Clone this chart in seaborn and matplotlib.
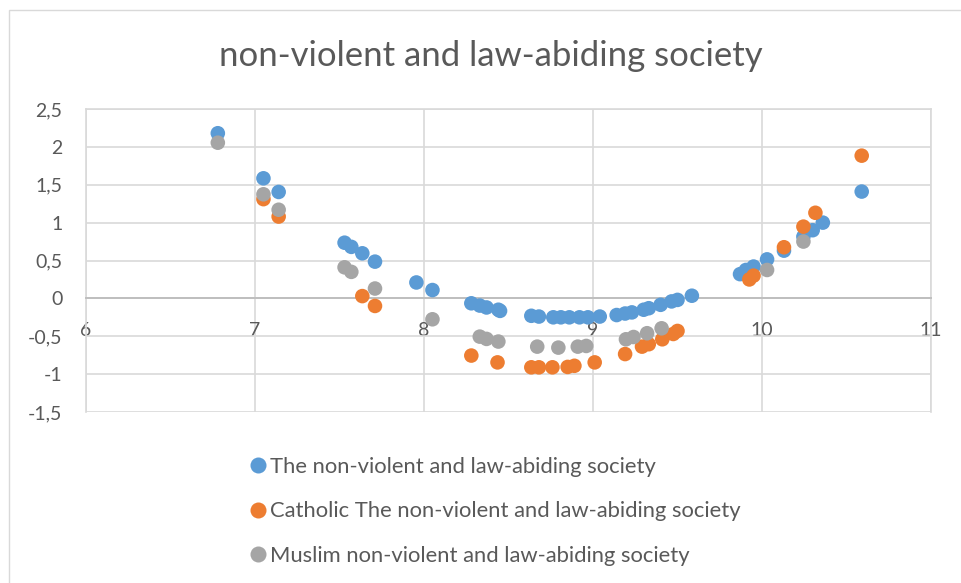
import pandas as pd
import numpy as np
import matplotlib.pyplot as plt
import matplotlib.ticker as mticker
import seaborn as sns

# series
blue_x = [6.78, 7.05, 7.14, 7.53, 7.57, 7.635, 7.71, 7.955, 8.05, 8.28, 8.33, 8.37, 8.44, 8.45,
          8.635, 8.68, 8.765, 8.81, 8.86, 8.92, 8.97, 9.04, 9.14, 9.19, 9.23, 9.30, 9.33, 9.40,
          9.465, 9.50, 9.585, 9.87, 9.905, 9.95, 10.03, 10.13, 10.245, 10.30, 10.36, 10.59]
blue_y = [2.18, 1.585, 1.405, 0.735, 0.68, 0.595, 0.485, 0.21, 0.11, -0.065, -0.095, -0.12, -0.15, -0.165,
          -0.23, -0.24, -0.25, -0.25, -0.25, -0.25, -0.25, -0.24, -0.22, -0.20, -0.185, -0.15, -0.13, -0.085,
          -0.04, -0.02, 0.035, 0.32, 0.375, 0.42, 0.515, 0.63, 0.815, 0.90, 1.0, 1.41]

catholic_x = [7.05, 7.14, 7.635, 7.71, 8.28, 8.435, 8.635, 8.68, 8.76, 8.85, 8.89, 9.01,
              9.19, 9.29, 9.33, 9.41, 9.475, 9.50, 9.925, 9.95, 10.13, 10.245, 10.316, 10.59]
catholic_y = [1.31, 1.08, 0.03, -0.10, -0.755, -0.845, -0.91, -0.91, -0.91, -0.905, -0.89, -0.845,
              -0.735, -0.637, -0.605, -0.54, -0.47, -0.43, 0.25, 0.30, 0.675, 0.947, 1.13, 1.884]

muslim_x = [6.78, 7.05, 7.14, 7.53, 7.57, 7.71, 8.05, 8.33, 8.37, 8.44, 8.67, 8.795, 8.91, 8.96,
            9.195, 9.24, 9.32, 9.406, 10.03, 10.245]
muslim_y = [2.055, 1.374, 1.17, 0.41, 0.35, 0.13, -0.276, -0.505, -0.535, -0.57, -0.637, -0.65, -0.637, -0.628,
            -0.54, -0.51, -0.46, -0.395, 0.375, 0.75]

labels = ['The non-violent and law-abiding society',
          'Catholic The non-violent and law-abiding society',
          'Muslim non-violent and law-abiding society']
colors = ['#5B9BD5', '#ED7D31', '#A5A5A5']

df = pd.concat([
    pd.DataFrame({'x': blue_x, 'y': blue_y, 'series': labels[0]}),
    pd.DataFrame({'x': catholic_x, 'y': catholic_y, 'series': labels[1]}),
    pd.DataFrame({'x': muslim_x, 'y': muslim_y, 'series': labels[2]}),
])

sns.set_style('white')
plt.rcParams['font.family'] = ['Lato', 'DejaVu Sans']
txt = '#595959'
grid = '#d9d9d9'

fig = plt.figure(figsize=(9.62, 5.83), dpi=100)
ax = fig.add_axes([86/962, 1-412/583, (931-86)/962, (412-109)/583])

sns.scatterplot(data=df, x='x', y='y', hue='series', palette=colors, s=110,
                linewidth=0, ax=ax, zorder=3)

ax.set_xlim(6, 11)
ax.set_ylim(-1.5, 2.5)
ax.set_xticks(np.arange(6, 12, 1))
ax.set_yticks(np.arange(-1.5, 2.6, 0.5))
ax.yaxis.set_major_formatter(mticker.FuncFormatter(lambda v, p: f"{v:g}".replace('.', ',')))
ax.grid(True, color=grid, lw=1.2)
ax.set_axisbelow(True)
ax.set_xlabel('')
ax.set_ylabel('')
for s in ['left', 'right', 'top']:
    ax.spines[s].set_color(grid)
    ax.spines[s].set_linewidth(1.2)
ax.spines['bottom'].set_position(('data', 0))
ax.spines['bottom'].set_color('#bfbfbf')
ax.spines['bottom'].set_linewidth(1.4)
ax.tick_params(axis='x', length=0, pad=17, labelsize=14, labelcolor=txt)
ax.tick_params(axis='y', length=0, pad=17, labelsize=14, labelcolor=txt)

fig.text(491/962, 1-56/583, 'non-violent and law-abiding society', ha='center', va='center',
         fontsize=25, color=txt)

sns.move_legend(ax, 'upper left', bbox_to_anchor=(229/962, 1-437/583), bbox_transform=fig.transFigure,
                title=None, frameon=False, fontsize=15.8, labelcolor=txt, handletextpad=0.15,
                handlelength=0.8, labelspacing=1.12, markerscale=1.1)

# chart area border
fig.add_artist(plt.Rectangle((9/962, -0.1), 2, 1-10/583+0.1, transform=fig.transFigure,
                             fill=False, edgecolor=grid, lw=1))

fig.savefig('out.png', dpi=100)
